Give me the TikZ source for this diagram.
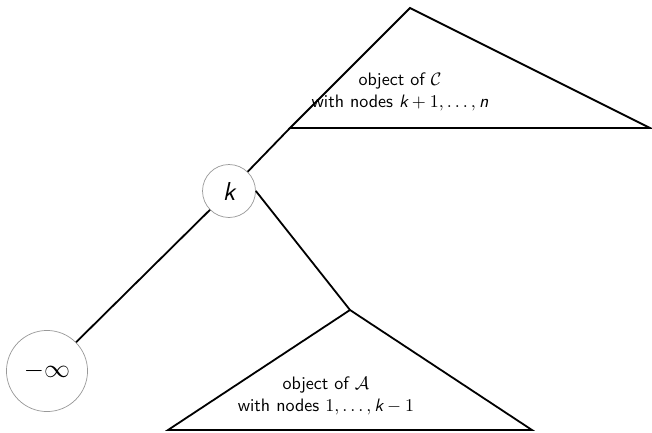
\documentclass[tikz,border=0pt]{standalone}
\usepackage{amsmath,amssymb}
\renewcommand{\familydefault}{\sfdefault}
\usetikzlibrary{positioning}

% kursive Variablen in Serifenloser Schrift
\newcommand{\sv}[1]{\text{\itshape #1}}

\tikzset{
  vertex/.style={circle, draw=black!40, thin, font=\Large, inner sep=0pt},
  edge/.style={line width=1pt},
}

\begin{document}
\begin{tikzpicture}[x=0.555pt, y=-0.555pt, every node/.style={font=\normalsize}]
  \useasboundingbox (0,0) rectangle (652,432);

  % Knoten k und -infty
  \node[vertex, minimum size=29.4pt] (k) at (229,191) {$\sv{k}$};
  \node[vertex, minimum size=45pt] (minf) at (47,371) {$-\infty$};

  % Oberes Dreieck (Objekt aus C)
  \coordinate (ctop) at (410,8);
  \coordinate (cleft) at (290,128);
  \coordinate (cright) at (650,128);
  \draw[edge] (ctop) -- (cright) -- (cleft) -- cycle;
  \node[align=center] (ctext) at (400,92) {object of $\mathcal{C}$\\with nodes $\sv{k}+1,\dots,\sv{n}$};

  % Unteres Dreieck (Objekt aus A)
  \coordinate (atop) at (350,310);
  \coordinate (aleft) at (168,430);
  \coordinate (aright) at (532,430);
  \draw[edge] (atop) -- (aright) -- (aleft) -- cycle;
  \node[align=center] (atext) at (326,396) {object of $\mathcal{A}$\\with nodes $1,\dots,\sv{k}-1$};

  % Kanten
  \draw[edge] (minf) -- (k);
  \draw[edge] (k) -- (cleft);
  \draw[edge] (k.east) -- (atop);
\end{tikzpicture}
\end{document}
